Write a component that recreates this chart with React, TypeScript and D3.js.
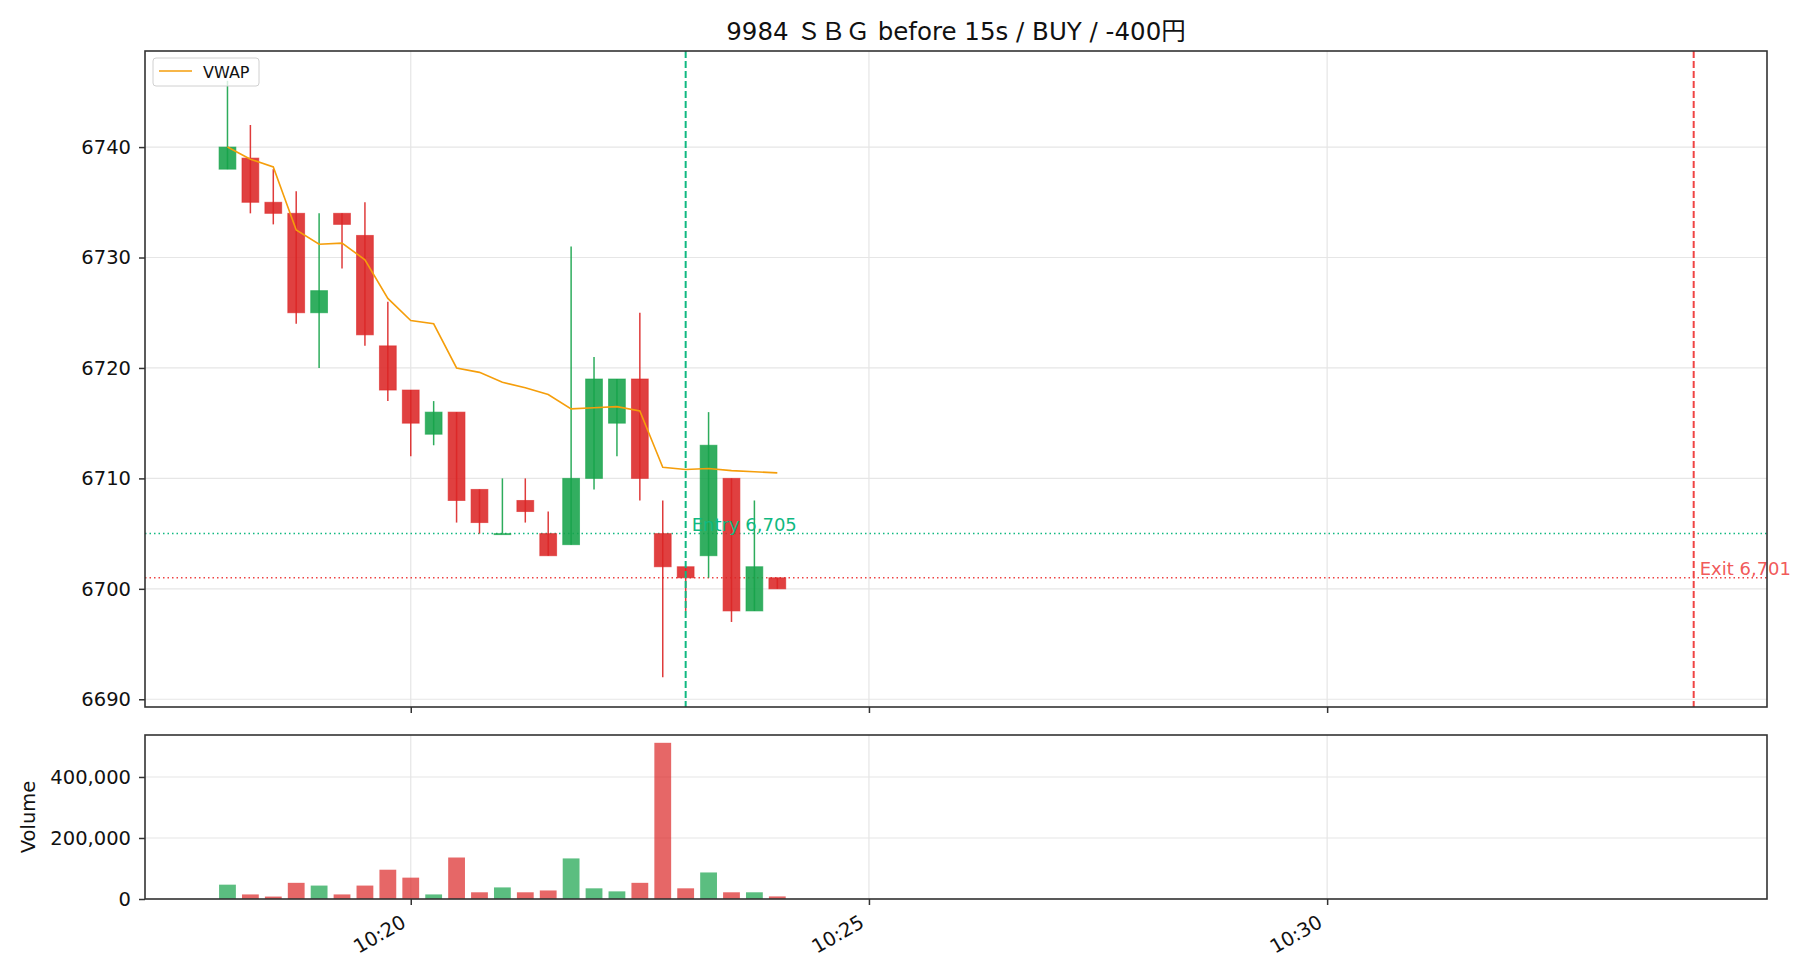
import { useRef, useEffect } from "react";
import * as d3 from "d3";

// 15s candles, 9984 SBG
const TIMES = [
  "10:18:00", "10:18:15", "10:18:30", "10:18:45", "10:19:00", "10:19:15", "10:19:30",
  "10:19:45", "10:20:00", "10:20:15", "10:20:30", "10:20:45", "10:21:00", "10:21:15",
  "10:21:30", "10:21:45", "10:22:00", "10:22:15", "10:22:30", "10:22:45", "10:23:00",
  "10:23:15", "10:23:30", "10:23:45", "10:24:00",
];
const OPEN = [6738, 6739, 6735, 6734, 6725, 6734, 6732, 6722, 6718, 6714, 6716, 6709, 6705, 6708, 6705, 6704, 6710, 6715, 6719, 6705, 6702, 6703, 6710, 6698, 6701];
const HIGH = [6746, 6742, 6738, 6736, 6734, 6734, 6735, 6726, 6718, 6717, 6716, 6709, 6710, 6710, 6707, 6731, 6721, 6719, 6725, 6708, 6702, 6716, 6710, 6708, 6701];
const LOW = [6738, 6734, 6733, 6724, 6720, 6729, 6722, 6717, 6712, 6713, 6706, 6705, 6705, 6706, 6703, 6704, 6709, 6712, 6708, 6692, 6698, 6701, 6697, 6698, 6700];
const CLOSE = [6740, 6735, 6734, 6725, 6727, 6733, 6723, 6718, 6715, 6716, 6708, 6706, 6705, 6707, 6703, 6710, 6719, 6719, 6710, 6702, 6701, 6713, 6698, 6702, 6700];
const VOLUME = [47000, 15000, 8000, 53000, 44000, 15000, 44000, 96000, 70000, 15000, 136000, 22000, 38000, 22000, 28000, 133000, 35000, 25000, 53000, 512000, 35000, 87000, 22000, 22000, 8500];
const VWAP = [6740.0, 6738.9, 6738.2, 6732.5, 6731.2, 6731.3, 6729.8, 6726.3, 6724.3, 6724.0, 6720.0, 6719.6, 6718.7, 6718.2, 6717.6, 6716.3, 6716.4, 6716.5, 6716.1, 6711.0, 6710.8, 6710.9, 6710.7, 6710.6, 6710.5];

const PRICE_TICKS = [6690, 6700, 6710, 6720, 6730, 6740];
const VOLUME_TICKS = [0, 200000, 400000];
const TIME_TICKS = ["10:20:00", "10:25:00", "10:30:00"];

const TITLE = "9984 ＳＢＧ before 15s / BUY / -400円";
const ENTRY_TIME = "10:23:00";
const ENTRY_PRICE = 6705;
const EXIT_TIME = "10:34:00";
const EXIT_PRICE = 6701;

const parseT = (s: string) => {
  const [h, m, sec] = s.split(":").map(Number);
  return new Date(2024, 0, 1, h, m, sec);
};

const GREEN = "#16a34a";
const RED = "#dc2626";
const ENTRY_C = "#10b981";
const EXIT_C = "#ef4444";
const FONT = "'DejaVu Sans', 'Noto Sans CJK JP', sans-serif";

export default function App() {
  const svgRef = useRef<SVGSVGElement>(null);

  useEffect(() => {
    if (!svgRef.current) return;
    const svg = d3.select(svgRef.current);
    svg.selectAll("*").remove();

    const width = 1820;
    const height = 980;
    const left = 145;
    const right = 1767;
    const main = { top: 51, bottom: 707 };
    const vol = { top: 735, bottom: 899 };

    const x = d3
      .scaleTime()
      .domain([parseT("10:17:06"), parseT("10:34:48")])
      .range([left, right]);
    const y = d3.scaleLinear().domain([6689.3, 6748.7]).range([main.bottom, main.top]);
    const yv = d3.scaleLinear().domain([0, 537600]).range([vol.bottom, vol.top]);

    const barW = x(parseT("10:18:11")) - x(parseT("10:18:00"));

    svg.append("rect").attr("width", width).attr("height", height).attr("fill", "#fff");

    // grids
    const drawGrid = (top: number, bottom: number, yTicks: number[], ys: (v: number) => number) => {
      const g = svg.append("g");
      g.selectAll(".gy")
        .data(yTicks)
        .join("line")
        .attr("x1", left)
        .attr("x2", right)
        .attr("y1", (d) => ys(d))
        .attr("y2", (d) => ys(d))
        .attr("stroke", "#e6e6e6")
        .attr("stroke-width", 1.2);
      g.selectAll(".gx")
        .data(TIME_TICKS)
        .join("line")
        .attr("x1", (d) => x(parseT(d)))
        .attr("x2", (d) => x(parseT(d)))
        .attr("y1", top)
        .attr("y2", bottom)
        .attr("stroke", "#e6e6e6")
        .attr("stroke-width", 1.2);
    };
    drawGrid(main.top, main.bottom, PRICE_TICKS, y);
    drawGrid(vol.top, vol.bottom, VOLUME_TICKS, yv);

    // entry / exit lines
    const tx = (s: string) => x(parseT(s));
    svg.append("line")
      .attr("x1", left).attr("x2", right)
      .attr("y1", y(ENTRY_PRICE)).attr("y2", y(ENTRY_PRICE))
      .attr("stroke", ENTRY_C).attr("stroke-width", 1.5).attr("stroke-dasharray", "1.5 3");
    svg.append("line")
      .attr("x1", left).attr("x2", right)
      .attr("y1", y(EXIT_PRICE)).attr("y2", y(EXIT_PRICE))
      .attr("stroke", EXIT_C).attr("stroke-width", 1.5).attr("stroke-dasharray", "1.5 3");

    // candles
    const candles = svg.append("g");
    TIMES.forEach((t, i) => {
      const cx = tx(t);
      const up = CLOSE[i] >= OPEN[i];
      const c = up ? GREEN : RED;
      const top = y(Math.max(OPEN[i], CLOSE[i]));
      const bot = y(Math.min(OPEN[i], CLOSE[i]));
      candles.append("rect")
        .attr("x", cx - barW / 2)
        .attr("y", top)
        .attr("width", barW)
        .attr("height", Math.max(bot - top, 1))
        .attr("fill", c)
        .attr("fill-opacity", 0.88)
        .attr("stroke", c)
        .attr("stroke-opacity", 0.6)
        .attr("stroke-width", 1);
      candles.append("line")
        .attr("x1", cx).attr("x2", cx)
        .attr("y1", y(HIGH[i])).attr("y2", y(LOW[i]))
        .attr("stroke", c).attr("stroke-width", 1.5).attr("stroke-opacity", 0.9);
    });

    // vwap
    const line = d3
      .line<number>()
      .x((_, i) => tx(TIMES[i]))
      .y((d) => y(d));
    svg.append("path")
      .datum(VWAP)
      .attr("d", line)
      .attr("fill", "none")
      .attr("stroke", "#f59e0b")
      .attr("stroke-width", 1.6);

    // vertical entry / exit
    svg.append("line")
      .attr("x1", tx(ENTRY_TIME)).attr("x2", tx(ENTRY_TIME))
      .attr("y1", main.top).attr("y2", main.bottom)
      .attr("stroke", ENTRY_C).attr("stroke-width", 2).attr("stroke-dasharray", "7 3");
    svg.append("line")
      .attr("x1", tx(EXIT_TIME)).attr("x2", tx(EXIT_TIME))
      .attr("y1", main.top).attr("y2", main.bottom)
      .attr("stroke", EXIT_C).attr("stroke-width", 2).attr("stroke-dasharray", "7 3");

    svg.append("text")
      .attr("x", tx(ENTRY_TIME) + 6)
      .attr("y", y(ENTRY_PRICE) - 3)
      .attr("fill", ENTRY_C)
      .attr("font-family", FONT)
      .attr("font-size", 18)
      .text(`Entry ${d3.format(",")(ENTRY_PRICE)}`);
    svg.append("text")
      .attr("x", tx(EXIT_TIME) + 6)
      .attr("y", y(EXIT_PRICE) - 3)
      .attr("fill", EXIT_C)
      .attr("fill-opacity", 0.9)
      .attr("font-family", FONT)
      .attr("font-size", 18)
      .text(`Exit ${d3.format(",")(EXIT_PRICE)}`);

    // volume bars
    svg.append("g")
      .selectAll("rect")
      .data(VOLUME)
      .join("rect")
      .attr("x", (_, i) => tx(TIMES[i]) - barW / 2)
      .attr("y", (d) => yv(d))
      .attr("width", barW)
      .attr("height", (d) => vol.bottom - yv(d))
      .attr("fill", (_, i) => (CLOSE[i] >= OPEN[i] ? GREEN : RED))
      .attr("fill-opacity", 0.7);

    // axes
    const styleAxis = (g: d3.Selection<SVGGElement, unknown, null, undefined>) => {
      g.attr("font-family", FONT).attr("font-size", 19.5);
      g.selectAll(".domain").remove();
      g.selectAll(".tick line").attr("stroke", "#333").attr("stroke-width", 1.5);
      g.selectAll(".tick text").attr("fill", "#111");
    };

    svg.append("g")
      .attr("transform", `translate(${left},0)`)
      .call(d3.axisLeft(y).tickValues(PRICE_TICKS).tickSize(6).tickPadding(8).tickFormat(d3.format("d")))
      .call(styleAxis);
    svg.append("g")
      .attr("transform", `translate(${left},0)`)
      .call(d3.axisLeft(yv).tickValues(VOLUME_TICKS).tickSize(6).tickPadding(8).tickFormat(d3.format(",")))
      .call(styleAxis);
    svg.append("g")
      .attr("transform", `translate(0,${main.bottom})`)
      .call(d3.axisBottom(x).tickValues(TIME_TICKS.map(parseT)).tickSize(6).tickFormat(() => ""))
      .call(styleAxis);
    const xb = svg.append("g")
      .attr("transform", `translate(0,${vol.bottom})`)
      .call(d3.axisBottom(x).tickValues(TIME_TICKS.map(parseT)).tickSize(6).tickFormat(d3.timeFormat("%H:%M") as any))
      .call(styleAxis);
    xb.selectAll(".tick text")
      .attr("text-anchor", "end")
      .attr("dy", null)
      .attr("y", 0)
      .attr("transform", "translate(-4,27) rotate(-30)");

    // frames
    [main, vol].forEach((p) => {
      svg.append("rect")
        .attr("x", left)
        .attr("y", p.top)
        .attr("width", right - left)
        .attr("height", p.bottom - p.top)
        .attr("fill", "none")
        .attr("stroke", "#333")
        .attr("stroke-width", 1.6);
    });

    // legend
    const lg = svg.append("g");
    lg.append("rect")
      .attr("x", 153).attr("y", 58).attr("width", 106).attr("height", 28).attr("rx", 3)
      .attr("fill", "#fff").attr("fill-opacity", 0.8)
      .attr("stroke", "#d0d0d0").attr("stroke-width", 1);
    lg.append("line")
      .attr("x1", 159).attr("x2", 192).attr("y1", 71).attr("y2", 71)
      .attr("stroke", "#f59e0b").attr("stroke-width", 1.6);
    lg.append("text")
      .attr("x", 203).attr("y", 77.5)
      .attr("font-family", FONT).attr("font-size", 16)
      .attr("fill", "#111")
      .text("VWAP");

    // labels
    svg.append("text")
      .attr("transform", `translate(35,${(vol.top + vol.bottom) / 2}) rotate(-90)`)
      .attr("text-anchor", "middle")
      .attr("font-family", FONT)
      .attr("font-size", 19.5)
      .attr("fill", "#111")
      .text("Volume");

    svg.append("text")
      .attr("x", (left + right) / 2)
      .attr("y", 40)
      .attr("text-anchor", "middle")
      .attr("font-family", FONT)
      .attr("font-size", 24.5)
      .attr("fill", "#111")
      .text(TITLE);
  }, []);

  return (
    <svg
      ref={svgRef}
      width={1820}
      height={980}
      style={{ position: "absolute", left: 0, top: 0 }}
    />
  );
}
